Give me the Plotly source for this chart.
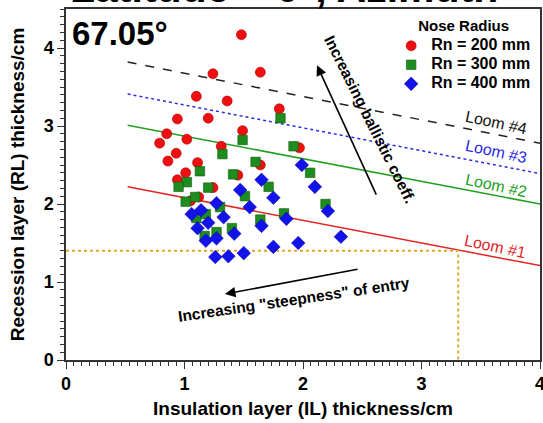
import plotly.graph_objects as go

# ---------------- data ----------------
red_x = [1.48, 1.24, 1.64, 1.10, 1.36, 0.94, 1.20, 1.80, 0.85, 0.79, 1.02, 1.49,
         1.31, 0.93, 0.86, 1.11, 1.64, 1.97, 1.01, 0.94, 1.45, 1.24, 1.12, 1.05]
red_y = [4.17, 3.67, 3.69, 3.38, 3.32, 3.09, 3.10, 3.22, 2.90, 2.78, 2.83, 2.94,
         2.74, 2.65, 2.55, 2.53, 2.50, 2.72, 2.40, 2.31, 2.37, 2.21, 2.09, 2.04]

green_x = [1.81, 1.49, 1.32, 1.92, 1.60, 1.13, 1.41, 2.06, 1.02, 0.95, 1.20, 1.71,
           1.51, 1.09, 1.01, 1.30, 2.19, 1.10, 1.18, 1.84, 1.64, 1.40, 1.17, 1.27]
green_y = [3.10, 2.82, 2.64, 2.74, 2.54, 2.42, 2.38, 2.40, 2.28, 2.22, 2.21, 2.22,
           2.10, 2.09, 2.03, 1.96, 2.00, 1.82, 1.87, 1.88, 1.80, 1.69, 1.59, 1.64]

blue_x = [1.99, 1.65, 1.47, 2.10, 1.75, 1.55, 2.21, 1.27, 1.06, 1.14, 1.33, 1.20,
          1.86, 1.65, 1.11, 1.42, 1.18, 1.27, 1.75, 1.96, 2.32, 1.50, 1.37, 1.26]
blue_y = [2.50, 2.31, 2.18, 2.22, 2.08, 1.96, 1.91, 2.01, 1.87, 1.92, 1.83, 1.76,
          1.81, 1.72, 1.69, 1.62, 1.53, 1.56, 1.45, 1.50, 1.58, 1.37, 1.33, 1.32]

series_names = ["Rn = 200 mm", "Rn = 300 mm", "Rn = 400 mm"]

loom_x = [0.52, 4.0]
loom1_y = [2.22, 1.21]
loom2_y = [3.01, 2.00]
loom3_y = [3.41, 2.39]
loom4_y = [3.82, 2.78]
loom_names = ["Loom #1", "Loom #2", "Loom #3", "Loom #4"]

guide_il = 3.31   # insulation thickness guide
guide_rl = 1.40   # recession thickness guide

x_ticks = [0, 1, 2, 3, 4]
y_ticks = [0, 1, 2, 3, 4]

FONT = "Liberation Sans, Arial, sans-serif"

fig = go.Figure()

# loom lines
loom_styles = [("#e32626", "solid"), ("#22a022", "solid"), ("#2a2ae0", "dot"), ("#222222", "dash")]
for ys, (col, dash) in zip([loom1_y, loom2_y, loom3_y, loom4_y], loom_styles):
    fig.add_trace(go.Scatter(x=loom_x, y=ys, mode="lines", showlegend=False,
                             line=dict(color=col, width=1.5, dash=dash), hoverinfo="skip"))

# guide lines
fig.add_trace(go.Scatter(x=[0, guide_il, guide_il], y=[guide_rl, guide_rl, 0], mode="lines",
                         showlegend=False, line=dict(color="#e0a52a", width=2, dash="dot"),
                         hoverinfo="skip"))


def legend_label(s):
    return '<span style="font-size:16px"><b>' + s + '</b></span>'


# data points
fig.add_trace(go.Scatter(x=red_x, y=red_y, mode="markers", name=legend_label(series_names[0]),
                         marker=dict(symbol="circle", size=10, color="#ee1010",
                                     line=dict(color="#b00000", width=0.6))))
fig.add_trace(go.Scatter(x=green_x, y=green_y, mode="markers", name=legend_label(series_names[1]),
                         marker=dict(symbol="square", size=9.5, color="#1e8c1e",
                                     line=dict(color="#0e5e0e", width=0.6))))
fig.add_trace(go.Scatter(x=blue_x, y=blue_y, mode="markers", name=legend_label(series_names[2]),
                         marker=dict(symbol="diamond", size=10.5, color="#1212ea",
                                     line=dict(color="#0000a0", width=0.5))))

annotations = []
# cut-off title at the very top
annotations.append(dict(text="<b>Latitude = 0°, Azimuth</b>", xref="paper", yref="paper",
                        x=0.005, y=1, xanchor="left", yanchor="bottom", yshift=-4,
                        showarrow=False, font=dict(size=41, color="black", family=FONT)))
annotations.append(dict(text="<b>67.05°</b>", xref="x", yref="y", x=0.035, y=4.18,
                        xanchor="left", yanchor="middle", showarrow=False,
                        font=dict(size=33, color="black", family=FONT)))
# loom labels
loom_label_pos = [(3.62, 1.46, "#e32626"), (3.63, 2.24, "#22a022"),
                  (3.63, 2.67, "#2a2ae0"), (3.63, 3.05, "#111111")]
for name, (lx, ly, col) in zip(loom_names, loom_label_pos):
    annotations.append(dict(text=name, x=lx, y=ly, xref="x", yref="y", showarrow=False,
                            textangle=12, font=dict(size=16, color=col, family=FONT)))
# arrows
annotations.append(dict(x=2.118, y=3.78, ax=2.624, ay=2.10, xref="x", yref="y",
                        axref="x", ayref="y", text="", showarrow=True, arrowhead=2,
                        arrowsize=1.3, arrowwidth=1.6, arrowcolor="black"))
annotations.append(dict(x=1.342, y=0.846, ax=2.473, ay=1.167, xref="x", yref="y",
                        axref="x", ayref="y", text="", showarrow=True, arrowhead=2,
                        arrowsize=1.3, arrowwidth=1.6, arrowcolor="black"))
annotations.append(dict(text="<b>Increasing ballistic coeff.</b>", x=2.565, y=3.08,
                        xref="x", yref="y", showarrow=False, textangle=63.5,
                        font=dict(size=15.5, color="black", family=FONT)))
annotations.append(dict(text='<b>Increasing "steepness" of entry</b>', x=1.92, y=0.77,
                        xref="x", yref="y", showarrow=False, textangle=-8.4,
                        font=dict(size=15.5, color="black", family=FONT)))

axis_common = dict(showline=True, linecolor="#333333", linewidth=1.5, mirror=True,
                   ticks="outside", ticklen=7, tickwidth=1.2, tickcolor="#333333",
                   showgrid=False, zeroline=False, automargin=False,
                   ticklabeloverflow="allow",
                   tickfont=dict(size=18, color="black", family=FONT, weight="bold"))

fig.update_layout(
    width=543, height=423,
    margin=dict(l=66, r=3, t=9, b=63),
    paper_bgcolor="white", plot_bgcolor="white",
    font=dict(family=FONT, color="black"),
    xaxis=dict(range=[0, 4], tickvals=x_ticks, ticktext=[str(v) for v in x_ticks],
               minor=dict(dtick=1/15, ticks="outside", ticklen=4, tickcolor="#333333"),
               title=dict(text="<b>Insulation layer (IL) thickness/cm</b>", standoff=8,
                          font=dict(size=19, color="black", family=FONT)),
               **axis_common),
    yaxis=dict(range=[0, 4.5], tickvals=y_ticks, ticktext=[str(v) for v in y_ticks],
               minor=dict(dtick=0.1, ticks="outside", ticklen=4, tickcolor="#333333"),
               title=dict(text="<b>Recession layer (RL) thickness/cm</b>", standoff=14,
                          font=dict(size=19, color="black", family=FONT)),
               **axis_common),
    legend=dict(x=0.686, y=0.992, xanchor="left", yanchor="top",
                bgcolor="rgba(255,255,255,0)", borderwidth=0,
                title=dict(text="<b>Nose Radius</b>", side="top center",
                           font=dict(size=15, color="black", family=FONT)),
                font=dict(size=12, color="black", family=FONT),
                tracegroupgap=0, itemsizing="trace"),
    annotations=annotations,
    showlegend=True,
)

fig.write_html("out.html", config={"displayModeBar": False},
               post_script="document.body.style.margin='0px';")
